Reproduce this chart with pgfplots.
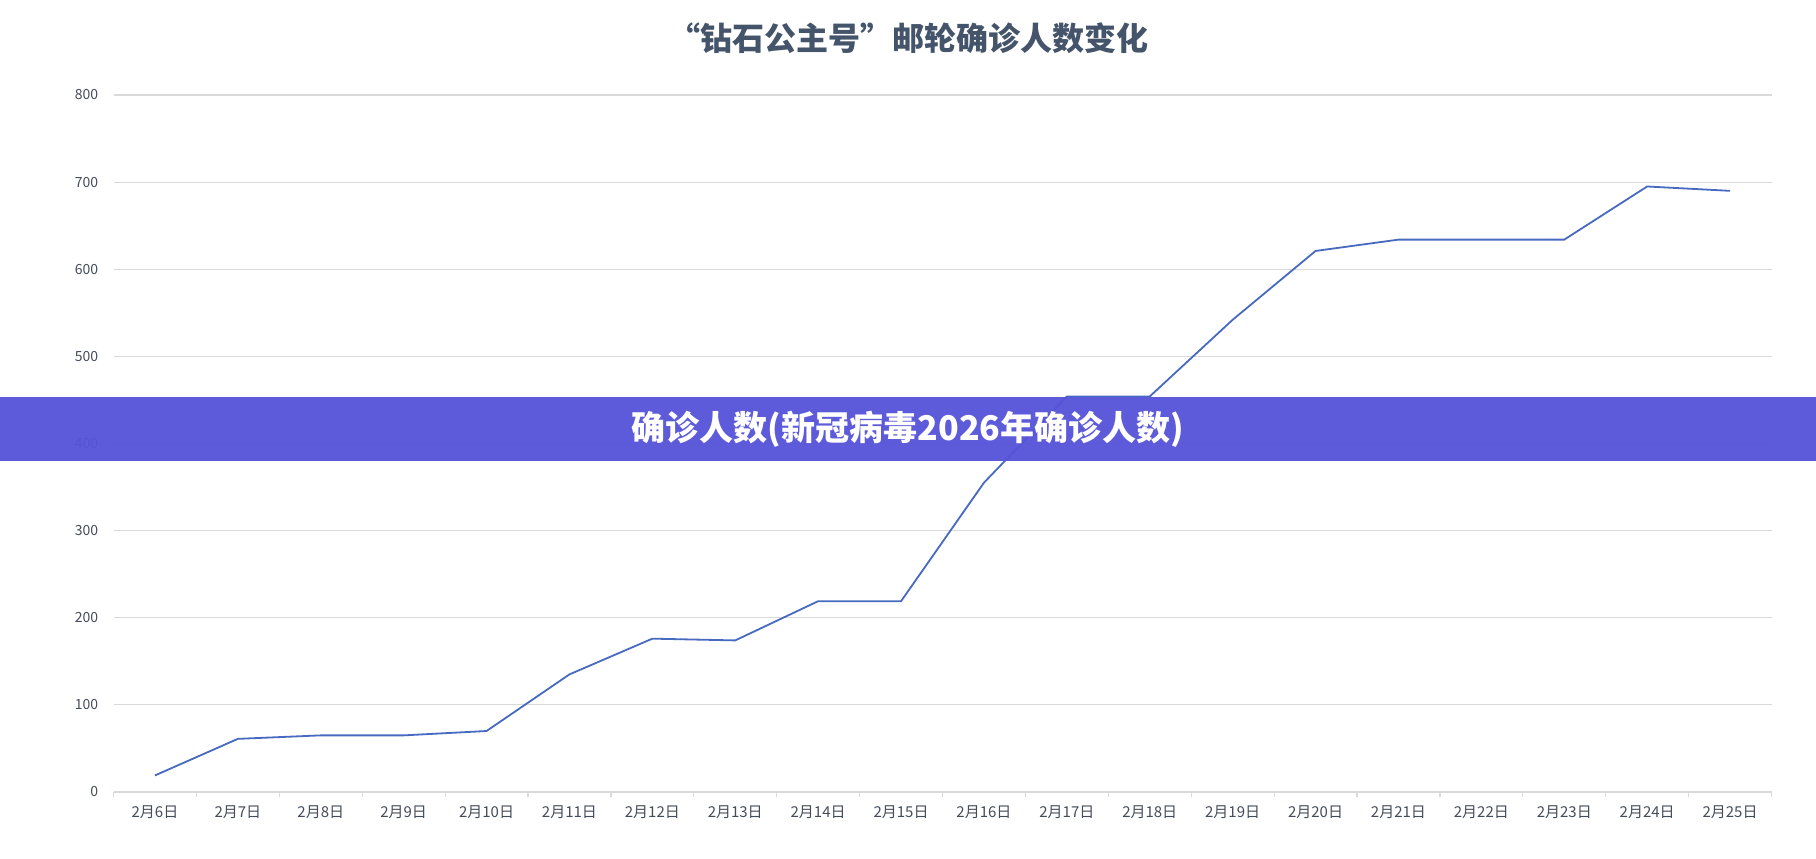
\documentclass[border=0pt]{standalone}
\usepackage{pgfplots}
\pgfplotsset{compat=1.18}
\usepackage{fontspec}
\setmainfont{Noto Sans CJK SC}
\newfontfamily\cjk{Noto Sans CJK SC}

\definecolor{linecol}{HTML}{4769BF}
\definecolor{gridcol}{HTML}{D9D9D9}
\definecolor{titlecol}{HTML}{44546A}
\definecolor{labelcol}{HTML}{444C5A}
\definecolor{bandcol}{HTML}{5553D9}

\begin{document}
\begin{tikzpicture}
\path[use as bounding box, fill=white] (0,0) rectangle (908pt,429pt);
\begin{axis}[
    at={(56.75pt,33pt)}, anchor=south west,
    scale only axis,
    width=829pt, height=348.5pt,
    xmin=-0.5, xmax=19.5,
    ymin=0, ymax=800,
    ytick={0,100,...,800},
    xtick={0,...,19},
    xticklabels={2月6日,2月7日,2月8日,2月9日,2月10日,2月11日,2月12日,2月13日,2月14日,2月15日,2月16日,2月17日,2月18日,2月19日,2月20日,2月21日,2月22日,2月23日,2月24日,2月25日},
    minor xtick={-0.5,0.5,...,19.5},
    major tick length=0pt,
    minor tick length=2.5pt,
    tick align=outside,
    minor tick style={gridcol, line width=0.6pt},
    axis x line*=bottom,
    axis y line*=left,
    x axis line style={gridcol, line width=0.8pt},
    y axis line style={draw=none},
    ymajorgrids,
    grid style={gridcol, line width=0.6pt},
    yticklabel style={font=\fontsize{7}{8}\selectfont, text=labelcol, inner sep=0pt, xshift=-7.5pt},
    xticklabel style={font=\fontsize{7.5}{8}\selectfont, text=labelcol, inner sep=0pt, yshift=-6.5pt},
    /pgf/number format/assume math mode=true,
    clip=false,
]
\addplot[linecol, line width=0.9pt] coordinates {
    (0,19) (1,61) (2,65) (3,65) (4,70) (5,135) (6,176) (7,174) (8,219) (9,219)
    (10,355) (11,454) (12,454) (13,542) (14,621) (15,634) (16,634) (17,634) (18,695) (19,690)
};
\end{axis}
\node[text=titlecol, font=\cjk\bfseries\fontsize{16}{18}\selectfont] at (454pt,410pt) {“钻石公主号”邮轮确诊人数变化};
\fill[bandcol, fill opacity=0.95] (0pt,198.5pt) rectangle (908pt,230.5pt);
\node[text=white, font=\cjk\bfseries\fontsize{17}{19}\selectfont] at (454pt,214.5pt) {确诊人数(新冠病毒2026年确诊人数)};
\end{tikzpicture}
\end{document}
